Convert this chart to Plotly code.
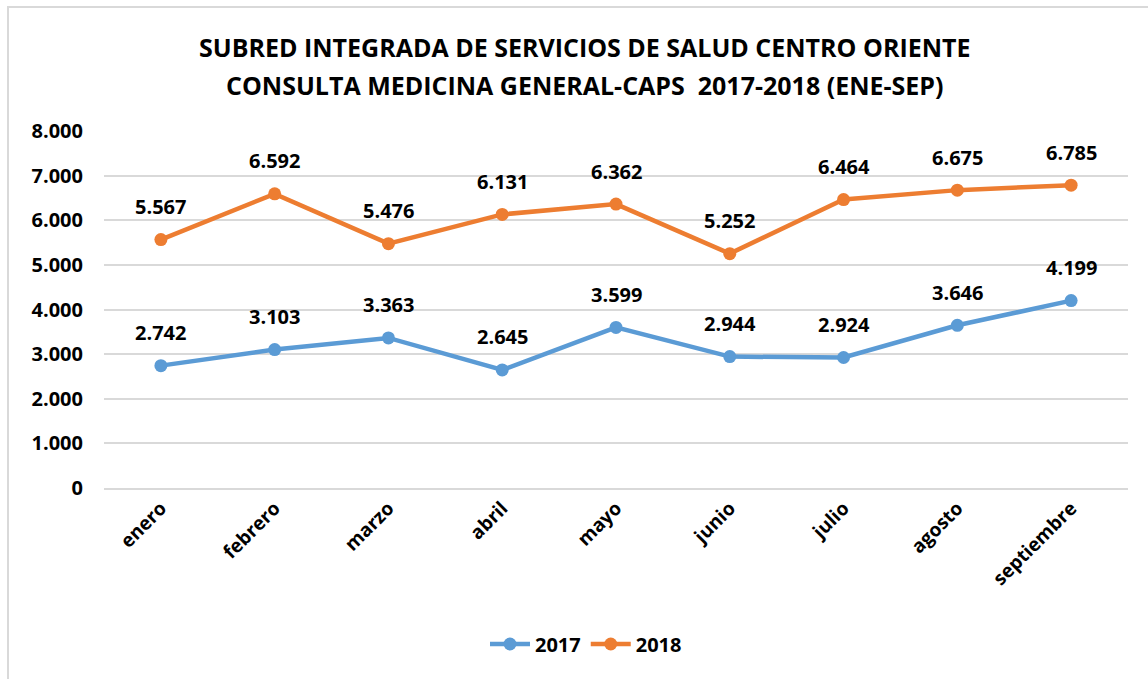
import plotly.graph_objects as go

months = ["enero", "febrero", "marzo", "abril", "mayo", "junio", "julio", "agosto", "septiembre"]
v2017 = [2742, 3103, 3363, 2645, 3599, 2944, 2924, 3646, 4199]
v2018 = [5567, 6592, 5476, 6131, 6362, 5252, 6464, 6675, 6785]
yticks = [0, 1000, 2000, 3000, 4000, 5000, 6000, 7000, 8000]
ytick_labels = ["0", "1.000", "2.000", "3.000", "4.000", "5.000", "6.000", "7.000", "8.000"]
title_lines = ["SUBRED INTEGRADA DE SERVICIOS DE SALUD CENTRO ORIENTE",
               "CONSULTA MEDICINA GENERAL-CAPS  2017-2018 (ENE-SEP)"]

BLUE = "#5B9BD5"
ORANGE = "#ED7D31"
FONT = "Open Sans, DejaVu Sans, sans-serif"

W, H = 1148, 679
L, R, T, B = 104, 20, 131, 191
pw, ph = W - L - R, H - T - B

def px_x(x):
    return (x - L) / pw

def px_y(y):
    return (H - B - y) / ph

fig = go.Figure()
for name, vals, col in [("2017", v2017, BLUE), ("2018", v2018, ORANGE)]:
    fig.add_trace(go.Scatter(
        x=months, y=vals, name=name, mode="lines+markers",
        line=dict(color=col, width=4.5),
        marker=dict(color=col, size=13),
        hoverinfo="x+y",
    ))

def fmt(v):
    return f"{v:,}".replace(",", ".")

ann = []
for vals in (v2017, v2018):
    for m, v in zip(months, vals):
        ann.append(dict(x=m, y=v, xref="x", yref="y", text=fmt(v), showarrow=False,
                        yshift=33, font=dict(family=FONT, size=20, color="#000000", weight="bold")))

for line, yc in zip(title_lines, (47, 85)):
    ann.append(dict(x=px_x(584), y=px_y(yc), xref="paper", yref="paper", text=line,
                    showarrow=False, xanchor="center", yanchor="middle",
                    font=dict(family=FONT, size=25, color="#000000", weight="bold")))

fig.update_layout(
    width=W, height=H,
    margin=dict(l=L, r=R, t=T, b=B),
    paper_bgcolor="white", plot_bgcolor="white",
    xaxis=dict(
        type="category", tickangle=-45, showgrid=False, showline=True,
        linecolor="#D9D9D9", linewidth=1.5, ticks="",
        tickfont=dict(family=FONT, size=19, color="#000000", weight="bold"),
        range=[-0.5, 8.5],
    ),
    yaxis=dict(
        range=[0, 8000], tickvals=yticks, ticktext=ytick_labels,
        showgrid=True, gridcolor="#D9D9D9", gridwidth=1.5, zeroline=False,
        ticks="", ticklabelstandoff=20,
        tickfont=dict(family=FONT, size=20, color="#000000", weight="bold"),
    ),
    legend=dict(
        orientation="h", x=px_x(586), xanchor="center", y=px_y(644), yanchor="middle",
        font=dict(family=FONT, size=20, color="#000000", weight="bold"),
        itemwidth=40,
    ),
    annotations=ann,
    shapes=[dict(type="rect", xref="paper", yref="paper",
                 x0=px_x(8), x1=px_x(1160), y0=px_y(690), y1=px_y(7),
                 line=dict(color="#D9D9D9", width=2), fillcolor="rgba(0,0,0,0)", layer="below")],
)

fig.write_html("out.html", config={"displayModeBar": False},
               post_script="document.body.style.margin='0';document.body.style.padding='0';")
